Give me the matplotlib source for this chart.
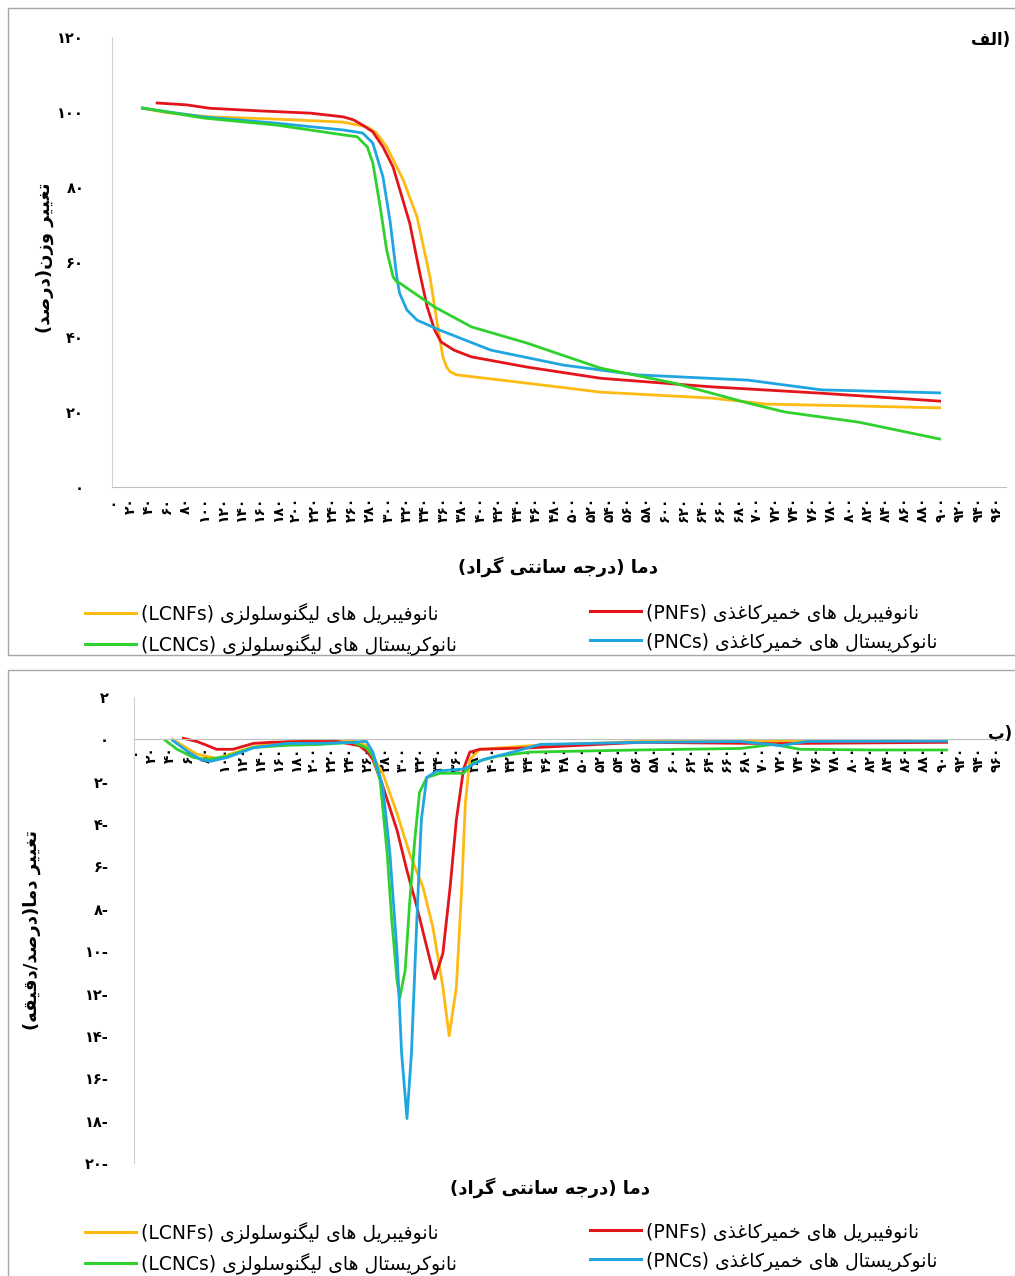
import matplotlib
matplotlib.use('Agg')
import matplotlib.pyplot as plt
from matplotlib.patches import Rectangle

plt.rcParams['font.family'] = ['DejaVu Sans']

# ---- data -------------------------------------------------------------
temp_ticks = list(range(0, 961, 20))

# TGA (weight %)
lcnf_tga_t = [33, 60, 106, 179, 251, 277, 287, 298, 316, 331, 345, 354, 359, 363, 367, 374, 450, 530, 651, 710, 810, 898]
lcnf_tga_w = [101, 99.8, 98.7, 98.1, 97.3, 96.0, 94.4, 90.7, 81.9, 72.0, 56.0, 41.9, 34.7, 32.0, 30.7, 29.9, 27.7, 25.3, 23.7, 22.1, 21.6, 21.1]

pnf_tga_t = [49, 81, 106, 160, 215, 251, 262, 272, 283, 294, 305, 323, 334, 342, 350, 357, 371, 390, 450, 530, 651, 770, 898]
pnf_tga_w = [102.4, 101.9, 101, 100.3, 99.7, 98.7, 97.9, 96.5, 94.7, 90.7, 85.3, 70.4, 57, 48, 41.9, 38.7, 36.5, 34.7, 32, 29, 26.7, 25, 22.9]

lcnc_tga_t = [33, 99, 179, 251, 266, 277, 283, 291, 298, 305, 309, 312, 350, 390, 450, 530, 610, 690, 730, 810, 898]
lcnc_tga_w = [101.1, 98.4, 96.5, 93.9, 93.4, 90.7, 86.4, 74.7, 63.2, 56, 54.7, 54.4, 48, 42.7, 38.4, 31.7, 27.7, 22.4, 20, 17.3, 12.8]

pnc_tga_t = [33, 99, 179, 251, 272, 283, 294, 302, 309, 312, 320, 331, 355, 411, 490, 570, 690, 730, 770, 898]
pnc_tga_w = [101, 98.7, 97, 95.2, 94.4, 91.7, 82.7, 70.4, 56, 51.7, 47.2, 44.5, 41.9, 36.5, 32.5, 29.9, 28.5, 27.2, 25.9, 25.1]

# DTG (%/min)
lcnf_dtg_t = [43, 70, 92, 133, 170, 207, 244, 259, 266, 277, 293, 307, 322, 333, 344, 351, 359, 365, 369, 374, 385, 441, 563, 675, 764, 905]
lcnf_dtg_v = [0, -0.7, -0.9, -0.35, -0.12, -0.05, -0.05, -0.3, -0.8, -1.6, -3.5, -5.4, -7.0, -8.9, -11.7, -14.0, -11.7, -7.0, -3.0, -0.95, -0.47, -0.3, -0.1, -0.05, -0.1, -0.1]

pnf_dtg_t = [55, 70, 81, 92, 110, 133, 152, 188, 226, 251, 260, 266, 277, 293, 304, 315, 326, 335, 344, 352, 359, 367, 374, 385, 441, 563, 712, 905]
pnf_dtg_v = [0.05, -0.1, -0.28, -0.47, -0.47, -0.19, -0.14, -0.1, -0.1, -0.3, -0.6, -0.95, -2.2, -4.3, -6.2, -7.9, -9.8, -11.3, -10.1, -7.0, -3.8, -1.4, -0.6, -0.47, -0.4, -0.14, -0.2, -0.14]

lcnc_dtg_t = [35, 48, 66, 81, 104, 133, 170, 207, 244, 259, 266, 274, 282, 287, 293, 296, 302, 307, 313, 318, 326, 341, 367, 378, 404, 441, 563, 675, 712, 742, 823, 905]
lcnc_dtg_v = [-0.05, -0.47, -0.85, -0.95, -0.8, -0.38, -0.28, -0.24, -0.14, -0.4, -0.8, -1.9, -5.4, -8.5, -11.4, -12.2, -10.9, -7.7, -4.6, -2.5, -1.8, -1.6, -1.6, -1.1, -0.8, -0.6, -0.5, -0.43, -0.24, -0.47, -0.5, -0.5]

pnc_dtg_t = [43, 59, 74, 85, 104, 133, 170, 207, 244, 255, 259, 266, 277, 285, 293, 298, 304, 309, 315, 320, 326, 337, 367, 389, 422, 452, 563, 675, 708, 720, 749, 905]
pnc_dtg_v = [-0.05, -0.55, -0.95, -1.04, -0.85, -0.4, -0.19, -0.19, -0.14, -0.1, -0.1, -0.6, -2.2, -5.4, -10.1, -14.8, -17.9, -14.8, -8.5, -3.8, -1.8, -1.5, -1.4, -0.95, -0.6, -0.24, -0.14, -0.1, -0.24, -0.3, -0.1, -0.08]

tga_ticks = [0, 20, 40, 60, 80, 100, 120]
dtg_ticks = [2, 0, -2, -4, -6, -8, -10, -12, -14, -16, -18, -20]

c_lcnf = '#FDBA12'
c_pnf = '#E3151B'
c_lcnc = '#2ED12E'
c_pnc = '#1FA6E0'

# ---- persian text helpers ------------------------------------------------
AR_FORMS = {
    'ا': ['\ufe8d', '\ufe8e'],
    'ب': ['\ufe8f', '\ufe90', '\ufe91', '\ufe92'],
    'ت': ['\ufe95', '\ufe96', '\ufe97', '\ufe98'],
    'ج': ['\ufe9d', '\ufe9e', '\ufe9f', '\ufea0'],
    'خ': ['\ufea5', '\ufea6', '\ufea7', '\ufea8'],
    'د': ['\ufea9', '\ufeaa'],
    'ذ': ['\ufeab', '\ufeac'],
    'ر': ['\ufead', '\ufeae'],
    'ز': ['\ufeaf', '\ufeb0'],
    'س': ['\ufeb1', '\ufeb2', '\ufeb3', '\ufeb4'],
    'ص': ['\ufeb9', '\ufeba', '\ufebb', '\ufebc'],
    'غ': ['\ufecd', '\ufece', '\ufecf', '\ufed0'],
    'ف': ['\ufed1', '\ufed2', '\ufed3', '\ufed4'],
    'ق': ['\ufed5', '\ufed6', '\ufed7', '\ufed8'],
    'ل': ['\ufedd', '\ufede', '\ufedf', '\ufee0'],
    'م': ['\ufee1', '\ufee2', '\ufee3', '\ufee4'],
    'ن': ['\ufee5', '\ufee6', '\ufee7', '\ufee8'],
    'ه': ['\ufee9', '\ufeea', '\ufeeb', '\ufeec'],
    'و': ['\ufeed', '\ufeee'],
    'ی': ['\ufbfc', '\ufbfd', '\ufbfe', '\ufbff'],
    'ک': ['\ufb8e', '\ufb8f', '\ufb90', '\ufb91'],
    'گ': ['\ufb92', '\ufb93', '\ufb94', '\ufb95'],
}


def shape(s):
    out = []
    for i, ch in enumerate(s):
        if ch not in AR_FORMS:
            out.append(ch)
            continue
        f = AR_FORMS[ch]
        prev = s[i - 1] if i > 0 else ''
        nxt = s[i + 1] if i + 1 < len(s) else ''
        join_prev = prev in AR_FORMS and len(AR_FORMS[prev]) == 4
        join_next = len(f) == 4 and nxt in AR_FORMS
        if join_prev and join_next:
            out.append(f[3])
        elif join_prev:
            out.append(f[1])
        elif join_next:
            out.append(f[2])
        else:
            out.append(f[0])
    return ''.join(out)


def rtl(s):
    mirror = {'(': ')', ')': '('}
    return ''.join(mirror.get(c, c) for c in reversed(shape(s)))


def fa(n):
    s = str(abs(n)).translate(str.maketrans('0123456789', '۰۱۲۳۴۵۶۷۸۹'))
    return s + '-' if n < 0 else s


lbl_lcnf = '(LCNFs) ' + rtl('نانوفیبریل های لیگنوسلولزی')
lbl_lcnc = '(LCNCs) ' + rtl('نانوکریستال های لیگنوسلولزی')
lbl_pnf = '(PNFs) ' + rtl('نانوفیبریل های خمیرکاغذی')
lbl_pnc = '(PNCs) ' + rtl('نانوکریستال های خمیرکاغذی')

# ---- figure ---------------------------------------------------------------
W, H = 1015, 1276
fig = plt.figure(figsize=(W / 100, H / 100), dpi=100)

fig.add_artist(Rectangle((8 / W, 1 - 655 / H), 1.2, 647 / H, transform=fig.transFigure,
                         fill=False, ec='#A6A6A6', lw=1))
fig.add_artist(Rectangle((8 / W, -0.1), 1.2, 0.1 + 1 - 670 / H, transform=fig.transFigure,
                         fill=False, ec='#A6A6A6', lw=1))


def style_axis(ax):
    ax.spines['top'].set_visible(False)
    ax.spines['right'].set_visible(False)
    ax.spines['left'].set_color('#D0D0D0')
    ax.spines['bottom'].set_color('#BFBFBF')
    ax.set_xlim(0, 970)
    ax.set_xticks(temp_ticks)
    ax.set_xticklabels([fa(t) for t in temp_ticks], rotation=90, fontsize=10, fontweight='bold')
    ax.tick_params(length=0)


lw = 2.0

# top panel: TGA
ax1 = fig.add_axes([112 / W, 1 - 487 / H, (1006 - 112) / W, (487 - 37) / H])
ax1.plot(lcnf_tga_t, lcnf_tga_w, color=c_lcnf, lw=lw)
ax1.plot(pnf_tga_t, pnf_tga_w, color=c_pnf, lw=lw)
ax1.plot(pnc_tga_t, pnc_tga_w, color=c_pnc, lw=lw)
ax1.plot(lcnc_tga_t, lcnc_tga_w, color=c_lcnc, lw=lw)
style_axis(ax1)
ax1.set_ylim(0, 120)
ax1.set_yticks(tga_ticks)
ax1.set_yticklabels([fa(t) for t in tga_ticks], fontsize=10.5, fontweight='bold')
ax1.tick_params(axis='y', pad=20)
ax1.tick_params(axis='x', pad=7)

# bottom panel: DTG
ax2 = fig.add_axes([134 / W, 1 - 1163 / H, (1005 - 134) / W, (1163 - 697) / H])
ax2.spines['bottom'].set_position(('data', 0))
ax2.plot(lcnf_dtg_t, lcnf_dtg_v, color=c_lcnf, lw=lw)
ax2.plot(pnf_dtg_t, pnf_dtg_v, color=c_pnf, lw=lw)
ax2.plot(lcnc_dtg_t, lcnc_dtg_v, color=c_lcnc, lw=lw)
ax2.plot(pnc_dtg_t, pnc_dtg_v, color=c_pnc, lw=lw)
style_axis(ax2)
ax2.set_ylim(-20, 2)
ax2.set_yticks(dtg_ticks)
ax2.set_yticklabels([fa(t) for t in dtg_ticks], fontsize=10.5, fontweight='bold')
ax2.tick_params(axis='y', pad=18)
ax2.tick_params(axis='x', pad=5)

# axis titles
fig.text(45 / W, 1 - 258 / H, rtl('تغییر وزن(درصد)'), rotation=90, ha='center', va='center',
         fontsize=13, fontweight='bold')
fig.text(32 / W, 1 - 930 / H, rtl('تغییر دما(درصد/دقیقه)'), rotation=90, ha='center', va='center',
         fontsize=13, fontweight='bold')
fig.text(558 / W, 1 - 567 / H, rtl('دما (درجه سانتی گراد)'), ha='center', va='center',
         fontsize=13, fontweight='bold')
fig.text(550 / W, 1 - 1188 / H, rtl('دما (درجه سانتی گراد)'), ha='center', va='center',
         fontsize=13, fontweight='bold')
fig.text(1010 / W, 1 - 40 / H, rtl('الف') + ')', ha='right', va='center', fontsize=12, fontweight='bold')
fig.text(1012 / W, 1 - 734 / H, rtl('ب') + ')', ha='right', va='center', fontsize=12, fontweight='bold')

# legends (two columns per panel)
for ytop in (603, 1222):
    for hx, items in ((85, [(c_lcnf, lbl_lcnf), (c_lcnc, lbl_lcnc)]),
                      (590, [(c_pnf, lbl_pnf), (c_pnc, lbl_pnc)])):
        handles = [plt.Line2D([], [], color=c, lw=2.2) for c, _ in items]
        fig.legend(handles, [t for _, t in items], loc='upper left',
                   bbox_to_anchor=(hx / W, 1 - ytop / H), frameon=False, fontsize=13.5,
                   handlelength=2.7, handletextpad=0.3, labelspacing=0.5, borderpad=0,
                   borderaxespad=0)

fig.savefig('out.png', dpi=100)
